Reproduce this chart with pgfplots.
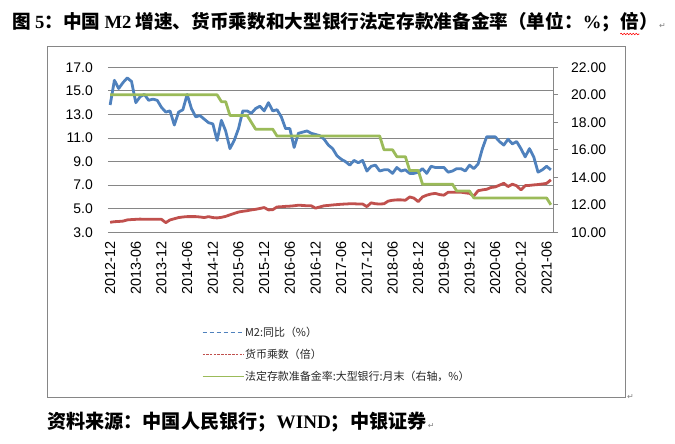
\documentclass[border=0pt]{standalone}
\usepackage{fontspec}
\setmainfont{Liberation Sans}
\newfontfamily\cjk{Noto Sans CJK SC}
\newfontfamily\tnr{Liberation Serif}
\newfontfamily\dejavu{DejaVu Sans}
\usepackage{pgfplots}
\pgfplotsset{compat=1.18}
\usepackage{pgfplotstable}
\usetikzlibrary{decorations.pathmorphing}
\definecolor{xlblue}{HTML}{4F81BD}
\definecolor{xlred}{HTML}{C0504D}
\definecolor{xlgreen}{HTML}{9BBB59}
\definecolor{gridgray}{HTML}{868686}

\pgfplotstableread{
i m2 mm rrr
0 13.8 3.85 20
1 15.9 3.90 20
2 15.2 3.92 20
3 15.7 3.95 20
4 16.1 4.05 20
5 15.8 4.08 20
6 14.0 4.10 20
7 14.5 4.12 20
8 14.7 4.10 20
9 14.2 4.10 20
10 14.3 4.10 20
11 14.2 4.10 20
12 13.6 4.10 20
13 13.2 3.82 20
14 13.3 4.05 20
15 12.1 4.15 20
16 13.2 4.25 20
17 13.4 4.30 20
18 14.7 4.33 20
19 13.5 4.33 20
20 12.8 4.33 20
21 12.9 4.30 20
22 12.6 4.25 20
23 12.3 4.33 20
24 12.2 4.25 20
25 10.8 4.22 20
26 12.5 4.27 19.5
27 11.6 4.35 19.5
28 10.1 4.48 18.5
29 10.8 4.60 18.5
30 11.8 4.72 18.5
31 13.3 4.78 18.5
32 13.3 4.83 18.5
33 13.1 4.90 18.0
34 13.5 4.95 17.5
35 13.7 5.02 17.5
36 13.3 5.10 17.5
37 14.0 4.90 17.5
38 13.3 4.92 17.5
39 13.4 5.15 17.0
40 12.8 5.17 17
41 11.8 5.20 17
42 11.8 5.22 17
43 10.2 5.25 17
44 11.4 5.30 17
45 11.5 5.28 17
46 11.6 5.25 17
47 11.4 5.25 17
48 11.3 5.05 17
49 11.2 5.15 17
50 10.9 5.25 17
51 10.4 5.28 17
52 10.1 5.32 17
53 9.5 5.35 17
54 9.2 5.38 17
55 9.0 5.40 17
56 8.7 5.42 17
57 9.1 5.42 17
58 8.9 5.40 17
59 9.1 5.40 17
60 8.2 5.18 17
61 8.6 5.50 17
62 8.7 5.42 17
63 8.2 5.40 17
64 8.3 5.42 16
65 8.3 5.65 16
66 8.0 5.72 16
67 8.5 5.75 15.5
68 8.2 5.75 15.5
69 8.3 5.72 15.5
70 8.0 6.00 14.5
71 8.0 5.90 14.5
72 8.1 5.60 14.5
73 8.4 6.00 13.5
74 8.0 6.15 13.5
75 8.6 6.25 13.5
76 8.5 6.30 13.5
77 8.5 6.20 13.5
78 8.5 6.15 13.5
79 8.1 6.40 13.5
80 8.2 6.40 13.5
81 8.4 6.40 13.0
82 8.4 6.40 13.0
83 8.2 6.35 13.0
84 8.7 6.30 13.0
85 8.4 6.08 12.5
86 8.8 6.53 12.5
87 10.1 6.60 12.5
88 11.1 6.65 12.5
89 11.1 6.80 12.5
90 11.1 6.85 12.5
91 10.7 7.00 12.5
92 10.4 7.16 12.5
93 10.9 6.88 12.5
94 10.5 7.08 12.5
95 10.7 6.95 12.5
96 10.1 6.60 12.5
97 9.4 6.96 12.5
98 10.1 6.98 12.5
99 9.4 7.02 12.5
100 8.1 7.05 12.5
101 8.3 7.10 12.5
102 8.6 7.15 12.5
103 8.3 7.45 12.0
}\datatable

\begin{document}
\begin{tikzpicture}
\useasboundingbox (0bp,0bp) rectangle (675bp,444bp);
\draw[gridgray, line width=0.9bp] (47bp,47bp) rectangle (625bp,398bp);
\node[anchor=base west, inner sep=0pt] (t1) at (12bp,415bp) {\fontsize{18.7}{22}\selectfont{\cjk\bfseries 图 }{\tnr\bfseries 5}{\cjk\bfseries ：中国 }{\tnr\bfseries M2}{\cjk\bfseries\ 增速、货币乘数和大型银行法定存款准备金率（单位：}{\tnr\bfseries \%}{\cjk\bfseries ；}};
\node[anchor=base west, inner sep=0pt] (t2) at (t1.base east) {\fontsize{18.7}{22}\selectfont\cjk\bfseries 倍};
\node[anchor=base west, inner sep=0pt] (t3) at (t2.base east) {\fontsize{18.7}{22}\selectfont\cjk\bfseries ）};
\node[anchor=base west, inner sep=0pt, text=gray] at ([xshift=0.5bp]t3.base east) {\dejavu\fontsize{8}{9}\selectfont ↵};
\draw[red, line width=0.6bp, decorate, decoration={snake, amplitude=0.8bp, segment length=3bp}] ([yshift=-5bp]t2.base west) -- ([yshift=-5bp]t2.base east);
\node[anchor=base west, inner sep=0pt] (s1) at (47bp,16bp) {\fontsize{19.2}{22}\selectfont{\cjk\bfseries 资料来源：中国人民银行；}{\tnr\bfseries WIND}{\cjk\bfseries ；中银证券}};
\node[anchor=base west, inner sep=0pt, text=gray] at ([xshift=1bp]s1.base east) {\dejavu\fontsize{8}{9}\selectfont ↵};
\node[anchor=west, inner sep=0pt, text=gray] at (627bp,47bp) {\dejavu\fontsize{8}{9}\selectfont ↵};

\begin{axis}[
  at={(108bp,211.7bp)}, anchor=south west,
  width=445bp, height=165bp, scale only axis,
  xmin=-0.5, xmax=103.5, ymin=3, ymax=17,
  xtick={0,6,...,102},
  xticklabels={2012-12,2013-06,2013-12,2014-06,2014-12,2015-06,2015-12,2016-06,2016-12,2017-06,2017-12,2018-06,2018-12,2019-06,2019-12,2020-06,2020-12,2021-06},
  ytick={3,5,...,17},
  ymajorgrids, grid style={gridgray, line width=0.9bp},
  axis line style={draw=none},
  major tick length=0pt,
  /pgf/number format/assume math mode=true,
  tick label style={font=\fontsize{14}{16}\selectfont, text=black},
  yticklabel style={/pgf/number format/fixed, /pgf/number format/fixed zerofill, /pgf/number format/precision=1, anchor=east, inner sep=0pt, xshift=-15bp},
  xticklabel style={yshift=-9bp, rotate=90, anchor=east, inner sep=0pt, font=\fontsize{14.5}{16}\selectfont},
  legend style={at={(axis description cs:0.211,-0.565)}, anchor=north west, draw=none, fill=none, inner sep=0pt, row sep=9.2bp, font=\cjk\fontsize{11}{12}\selectfont, text=black!85, nodes={inner sep=1bp, xshift=2bp}},
  legend cell align=left,
  legend image code/.code={\draw[#1] (-2bp,0bp) -- (39bp,0bp);},
]
\addplot[xlblue, line width=2.8bp, line join=round, forget plot] table[x=i,y=m2]{\datatable};
\addplot[xlred, line width=2.8bp, line join=round, forget plot] table[x=i,y=mm]{\datatable};
\addlegendimage{xlblue, line width=1bp, dash pattern=on 4bp off 3bp}
\addlegendentry{M2:同比（\%）}
\addlegendimage{xlred, line width=0.8bp, dash pattern=on 2.5bp off 1.2bp}
\addlegendentry{货币乘数（倍）}
\addlegendimage{xlgreen, line width=1bp}
\addlegendentry{法定存款准备金率:大型银行:月末（右轴，\%）}
\end{axis}

\begin{axis}[
  at={(108bp,211.7bp)}, anchor=south west,
  width=445bp, height=165bp, scale only axis,
  xmin=-0.5, xmax=103.5, ymin=10, ymax=22,
  xtick=\empty,
  ytick={10,12,...,22},
  axis x line=none, axis y line*=right,
  axis line style={gridgray, line width=0.9bp, -},
  tick align=outside, major tick length=5bp,
  tick style={gridgray, line width=0.9bp},
  /pgf/number format/assume math mode=true,
  tick label style={font=\fontsize{14}{16}\selectfont, text=black},
  yticklabel style={/pgf/number format/fixed, /pgf/number format/fixed zerofill, /pgf/number format/precision=2, anchor=west, inner sep=0pt, xshift=13bp},
]
\addplot[xlgreen, line width=2.8bp, line join=round] table[x=i,y=rrr]{\datatable};
\end{axis}
\end{tikzpicture}
\end{document}
